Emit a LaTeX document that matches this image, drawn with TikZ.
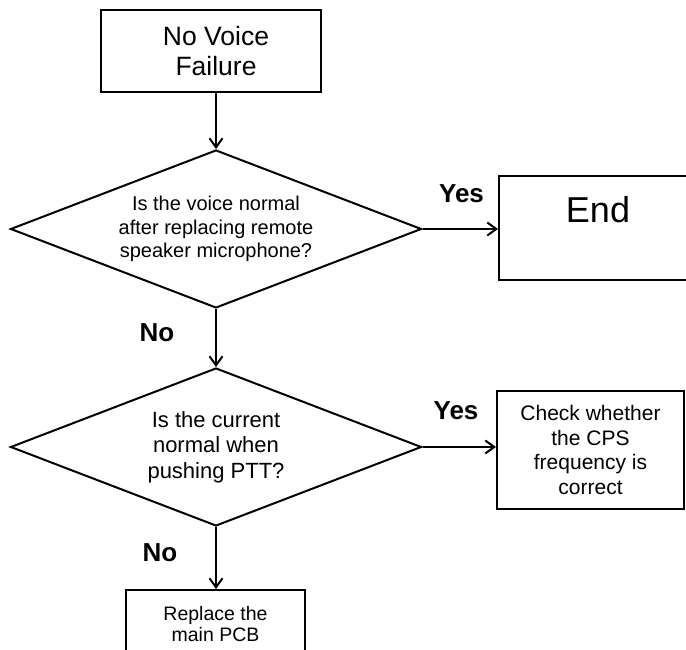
\documentclass[tikz,border=0pt]{standalone}
\usepackage{fontspec}
\setmainfont{Liberation Sans}
\usetikzlibrary{shapes.geometric,arrows.meta}
\begin{document}
\begin{tikzpicture}[x=1pt,y=1pt,line width=2pt,
  box/.style={draw,rectangle,inner sep=0pt,align=center},
  dia/.style={draw,diamond,shape aspect=2.6,inner sep=0pt,minimum width=411pt,minimum height=158pt,align=center},
  arr/.style={-{Straight Barb[length=9pt,width=13pt]},line width=2pt},
  lbl/.style={font=\fontsize{26}{28}\selectfont\bfseries,anchor=base,inner sep=0pt}]
\clip (0,0) rectangle (686,650);
\node[box,minimum width=220pt,minimum height=82pt,font=\fontsize{26.5}{29.5}\selectfont] (top) at (211,599) {\hspace*{10pt}No Voice\\\hspace*{10pt}Failure};
\node[dia,font=\fontsize{20}{23.5}\selectfont] (d1) at (216,421) {Is the voice normal\\after replacing remote\\speaker microphone?};
\node[box,minimum width=198pt,text height=47pt,text depth=57pt,font=\fontsize{36}{40}\selectfont] (end) at (598,422) {End};
\node[dia,font=\fontsize{22}{25.5}\selectfont] (d2) at (216,203) {Is the current\\normal when\\pushing PTT?};
\node[box,minimum width=187pt,minimum height=118pt,font=\fontsize{21}{24.5}\selectfont] (cps) at (590.5,200) {Check whether\\the CPS\\frequency is\\correct};
\node[box,anchor=north,minimum width=179pt,inner ysep=16pt,font=\fontsize{19.5}{21}\selectfont] (rep) at (215.5,61) {Replace the\\main PCB};
\node[lbl] (y1) at (461.5,447) {Yes};
\node[lbl] (n1) at (157,308) {No};
\node[lbl] (y2) at (456,230) {Yes};
\node[lbl] (n2) at (160,88) {No};
\draw[arr] (d1.north |- top.south) -- (d1.north);
\draw[arr] (d1.east) -- (d1.east -| end.west);
\draw[arr] (d1.south) -- (d2.north);
\draw[arr] (d2.east) -- (d2.east -| cps.west);
\draw[arr] (d2.south) -- (d2.south |- rep.north);
\end{tikzpicture}
\end{document}
